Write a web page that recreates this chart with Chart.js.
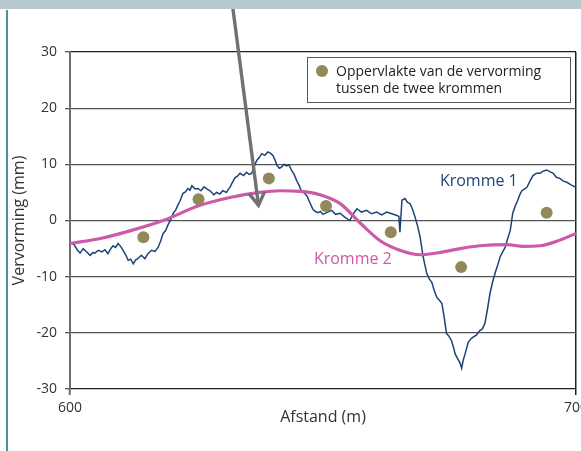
<!DOCTYPE html>
<html>
<head>
<meta charset="utf-8">
<script src="https://cdn.jsdelivr.net/npm/chart.js@4.4.0/dist/chart.umd.min.js"></script>
<style>
  html, body { margin: 0; padding: 0; background: #fff; overflow: hidden; width: 581px; height: 451px; }
  #wrap { position: relative; width: 581px; height: 451px; overflow: hidden; }
  #c { position: absolute; left: 0; top: 0; }
  #band { position: absolute; left: 0; top: 0; width: 581px; height: 9px; background: #b8c8d0; }
  #rule { position: absolute; left: 6px; top: 10px; width: 2px; height: 441px; background: #4d9296; }
</style>
</head>
<body>
<div id="wrap">
  <canvas id="c" width="600" height="451"></canvas>
  <div id="band"></div>
  <div id="rule"></div>
</div>
<script>
// Kromme 1: measured deformation (distance in m, deformation in mm)
const distance1 = [600.0, 600.8, 601.4, 602.0, 602.6, 603.3, 604.0, 604.5, 604.9, 605.6, 606.3, 606.9, 607.5, 608.0, 608.5, 609.0, 609.5, 610.0, 610.5, 611.0, 611.5, 612.0, 612.5, 613.0, 613.4, 614.1, 614.8, 615.4, 616.1, 616.8, 617.4, 617.9, 618.4, 618.9, 619.4, 619.9, 620.4, 620.9, 621.3, 621.8, 622.3, 622.8, 623.3, 623.7, 624.1, 624.7, 625.3, 625.9, 626.5, 627.1, 627.7, 628.4, 629.0, 629.6, 630.2, 630.9, 631.6, 632.1, 632.6, 633.1, 633.6, 634.3, 634.9, 635.4, 635.9, 636.4, 636.9, 637.4, 637.9, 638.5, 639.1, 639.6, 640.1, 640.5, 640.9, 641.4, 641.8, 642.3, 642.8, 643.3, 643.8, 644.3, 644.8, 645.3, 645.7, 646.3, 646.8, 647.4, 648.0, 648.5, 649.0, 649.5, 650.0, 650.9, 651.7, 652.5, 653.4, 654.3, 655.3, 656.0, 656.7, 657.6, 658.6, 659.6, 660.6, 661.6, 662.6, 663.6, 664.6, 665.0, 665.2, 665.6, 666.2, 666.7, 667.2, 667.7, 668.2, 668.7, 669.2, 669.8, 670.5, 671.0, 671.5, 672.0, 672.5, 673.0, 673.5, 674.0, 674.4, 674.9, 675.4, 675.8, 676.1, 676.6, 677.1, 677.4, 677.7, 678.1, 678.7, 679.2, 679.6, 680.3, 681.0, 681.5, 682.0, 682.5, 683.0, 683.5, 684.0, 684.5, 685.0, 685.5, 686.0, 686.5, 687.0, 687.5, 688.0, 688.5, 688.9, 689.3, 689.8, 690.3, 690.9, 691.5, 692.2, 692.9, 693.5, 694.2, 694.8, 695.5, 696.1, 696.8, 697.5, 698.2, 699.1, 700.0];
const kromme1 = [-3.9, -4.3, -5.2, -5.8, -5.0, -5.6, -6.2, -5.7, -5.8, -5.3, -5.6, -5.2, -5.9, -5.1, -4.5, -4.8, -4.1, -4.6, -5.3, -6.1, -7.1, -6.9, -7.7, -7.0, -6.8, -6.2, -6.8, -5.9, -5.3, -5.5, -4.8, -3.7, -2.3, -1.8, -0.7, 0.1, 1.3, 1.9, 2.7, 3.6, 4.8, 5.1, 5.7, 5.4, 6.2, 5.6, 5.7, 5.3, 6.0, 5.6, 5.3, 4.6, 5.0, 4.7, 5.3, 5.0, 5.9, 6.8, 7.6, 7.9, 8.4, 8.0, 8.6, 8.2, 8.4, 9.6, 10.7, 11.2, 11.9, 11.6, 12.2, 12.0, 11.6, 10.8, 9.8, 9.3, 9.5, 10.0, 9.7, 9.9, 8.9, 8.2, 7.1, 6.2, 5.3, 4.9, 4.4, 3.2, 2.0, 1.6, 1.4, 1.6, 1.1, 1.5, 1.8, 1.1, 1.3, 0.6, 0.0, 1.2, 2.1, 1.5, 1.8, 1.2, 1.5, 1.0, 1.5, 1.2, 0.9, 0.7, -2.1, 3.6, 3.9, 3.2, 3.0, 2.0, 0.6, -1.0, -3.0, -6.5, -9.4, -10.4, -11.0, -12.5, -13.7, -14.2, -14.8, -17.5, -20.1, -20.6, -21.4, -22.6, -23.7, -24.6, -25.4, -26.3, -24.9, -23.7, -21.7, -21.1, -20.8, -20.4, -19.6, -19.3, -18.3, -15.8, -13.0, -11.0, -9.4, -8.0, -6.5, -5.6, -4.8, -3.2, -1.8, 1.3, 2.6, 3.6, 4.6, 5.3, 5.6, 5.9, 7.0, 8.0, 8.4, 8.4, 8.8, 9.0, 8.7, 8.4, 7.7, 7.5, 7.0, 6.8, 6.3, 5.9];

// Kromme 2: smooth reference curve
const distance2 = [600.0, 606.0, 612.0, 618.4, 625.7, 631.6, 637.5, 641.5, 645.5, 649.4, 653.4, 657.3, 661.3, 665.2, 669.2, 673.1, 677.1, 681.0, 686.4, 689.5, 692.9, 696.2, 700.0];
const kromme2 = [-4.1, -3.2, -1.8, 0.0, 2.7, 4.1, 5.0, 5.3, 5.2, 4.6, 3.0, -0.4, -3.6, -5.3, -6.1, -5.7, -5.0, -4.5, -4.3, -4.6, -4.5, -3.7, -2.3];

// Surface of the deformation between the two curves
const areaDistance = [614.5, 625.4, 639.3, 650.6, 663.4, 677.3, 694.2];
const areaValue = [-3.0, 3.8, 7.5, 2.6, -2.1, -8.3, 1.4];

const yTicks = [-30, -20, -10, 0, 10, 20, 30];
const xTicks = [600, 700];

const areaLabel = ['Oppervlakte van de vervorming', 'tussen de twee krommen'];
const curveNames = ['Kromme 1', 'Kromme 2'];
const curveLabelAt = [[673.1, 6.9], [648.2, -6.9]];
const arrowFrom = [632.0, 39.1];
const arrowTo = [637.25, 2.7];

const NAVY = '#1d4477';
const PINK = '#cc5aa8';
const OLIVE = '#928858';
const FONT = "'Open Sans', sans-serif";

const pts = (xs, ys) => xs.map((v, i) => ({ x: v, y: ys[i] }));

const overlay = {
  id: 'overlay',
  afterDatasetsDraw(chart) {
    const { ctx, chartArea: a, scales: { x, y } } = chart;
    ctx.save();

    // arrow pointing at the region between the curves
    const x0 = x.getPixelForValue(arrowFrom[0]), y0 = y.getPixelForValue(arrowFrom[1]);
    const x1 = x.getPixelForValue(arrowTo[0]), y1 = y.getPixelForValue(arrowTo[1]);
    const ang = Math.atan2(y1 - y0, x1 - x0);
    const len = 15, spread = 0.55;
    ctx.strokeStyle = '#717171';
    ctx.lineWidth = 3.4;
    ctx.lineCap = 'butt';
    ctx.lineJoin = 'miter';
    ctx.beginPath();
    ctx.moveTo(x0, y0);
    ctx.lineTo(x1, y1);
    ctx.stroke();
    ctx.beginPath();
    ctx.moveTo(x1 - len * Math.cos(ang - spread), y1 - len * Math.sin(ang - spread));
    ctx.lineTo(x1, y1);
    ctx.lineTo(x1 - len * Math.cos(ang + spread), y1 - len * Math.sin(ang + spread));
    ctx.stroke();

    // curve names
    ctx.font = '16px ' + FONT;
    ctx.textAlign = 'left';
    ctx.textBaseline = 'middle';
    [NAVY, PINK].forEach((col, i) => {
      ctx.fillStyle = col;
      ctx.fillText(curveNames[i], x.getPixelForValue(curveLabelAt[i][0]), y.getPixelForValue(curveLabelAt[i][1]));
    });

    // legend box
    const bw = 264, bh = 46;
    const bx = a.right - 5 - bw, by = a.top + 5;
    ctx.fillStyle = '#fff';
    ctx.fillRect(bx, by, bw, bh);
    ctx.strokeStyle = '#5a5a5a';
    ctx.lineWidth = 1;
    ctx.strokeRect(bx + 0.5, by + 0.5, bw - 1, bh - 1);
    ctx.fillStyle = OLIVE;
    ctx.beginPath();
    ctx.arc(bx + 15, by + 14, 6, 0, Math.PI * 2);
    ctx.fill();
    ctx.fillStyle = '#222';
    ctx.font = '14px ' + FONT;
    ctx.fillText(areaLabel[0], bx + 29, by + 15);
    ctx.fillText(areaLabel[1], bx + 29, by + 32);

    ctx.restore();
  }
};

new Chart(document.getElementById('c'), {
  type: 'line',
  data: {
    datasets: [
      {
        label: areaLabel.join(' '),
        data: pts(areaDistance, areaValue),
        showLine: false,
        pointRadius: 6,
        pointHoverRadius: 6,
        pointBackgroundColor: OLIVE,
        pointBorderWidth: 0,
        order: 0
      },
      {
        label: curveNames[1],
        data: pts(distance2, kromme2),
        borderColor: PINK,
        borderWidth: 3.2,
        pointRadius: 0,
        cubicInterpolationMode: 'monotone',
        order: 1
      },
      {
        label: curveNames[0],
        data: pts(distance1, kromme1),
        borderColor: NAVY,
        borderWidth: 1.5,
        pointRadius: 0,
        tension: 0,
        order: 2
      }
    ]
  },
  options: {
    responsive: false,
    animation: false,
    devicePixelRatio: 1,
    events: [],
    layout: { padding: { left: 0, top: 52, right: 24, bottom: 0 } },
    plugins: { legend: { display: false }, tooltip: { enabled: false } },
    scales: {
      x: {
        type: 'linear',
        min: 600,
        max: 700,
        afterBuildTicks: s => { s.ticks = xTicks.map(v => ({ value: v })); },
        afterFit: s => { s.height = 62; },
        ticks: { color: '#333', font: { family: FONT, size: 14 }, padding: 5, maxRotation: 0 },
        grid: {
          drawOnChartArea: true,
          color: c => (c.tick && c.tick.value === 700) ? '#222' : 'rgba(0,0,0,0)',
          lineWidth: 1.5,
          tickLength: 6,
          tickColor: c => (c.tick && c.tick.value === 700) ? '#222' : '#6c6c6c',
          tickWidth: c => (c.tick && c.tick.value === 700) ? 1.5 : 2
        },
        border: { display: false },
        title: {
          display: true,
          text: 'Afstand (m)',
          color: '#333',
          font: { family: FONT, size: 16 },
          padding: { top: 0, bottom: 24 }
        }
      },
      y: {
        min: -30,
        max: 30,
        afterBuildTicks: s => { s.ticks = yTicks.map(v => ({ value: v })); },
        afterFit: s => { s.width = 70; },
        ticks: { color: '#333', font: { family: FONT, size: 14 }, padding: 8 },
        grid: {
          color: c => (c.tick && Math.abs(c.tick.value) === 30) ? '#1e1e1e' : '#555',
          lineWidth: 1.3,
          tickLength: 5,
          tickColor: '#555'
        },
        border: { display: true, color: '#6c6c6c', width: 2 },
        title: {
          display: true,
          text: 'Vervorming (mm)',
          color: '#333',
          font: { family: FONT, size: 16 },
          padding: { top: 10, bottom: 0 }
        }
      }
    }
  },
  plugins: [overlay]
});
</script>
</body>
</html>
